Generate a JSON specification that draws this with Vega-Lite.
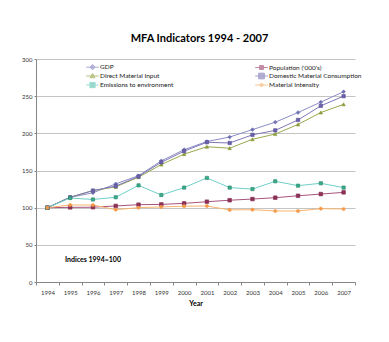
{
  "$schema": "https://vega.github.io/schema/vega-lite/v6.json",
  "width": 319,
  "height": 223,
  "autosize": {"type": "none"},
  "padding": {"left": 36, "top": 59, "right": 34, "bottom": 60},
  "background": "white",
  "title": {
    "text": "MFA Indicators 1994 - 2007",
    "font": "Lato",
    "fontSize": 11,
    "fontWeight": "bold",
    "color": "#000000",
    "anchor": "middle",
    "baseline": "alphabetic",
    "offset": 3,
    "dx": 4
  },
  "config": {
    "view": {"stroke": null},
    "font": "Lato",
    "legend": {
      "orient": "none",
      "legendX": 52.5,
      "legendY": 4,
      "columns": 2,
      "columnPadding": 79,
      "rowPadding": -1.5,
      "symbolSize": 49,
      "symbolStrokeWidth": 1,
      "labelFont": "Lato",
      "labelFontSize": 6.5,
      "labelColor": "#222222",
      "labelOffset": 3.5,
      "title": null,
      "padding": 0
    }
  },
  "data": {
    "values": [
      {"year": "1994", "series": "GDP", "value": 100},
      {"year": "1995", "series": "GDP", "value": 114},
      {"year": "1996", "series": "GDP", "value": 120},
      {"year": "1997", "series": "GDP", "value": 132},
      {"year": "1998", "series": "GDP", "value": 143},
      {"year": "1999", "series": "GDP", "value": 163},
      {"year": "2000", "series": "GDP", "value": 178},
      {"year": "2001", "series": "GDP", "value": 189},
      {"year": "2002", "series": "GDP", "value": 195},
      {"year": "2003", "series": "GDP", "value": 205},
      {"year": "2004", "series": "GDP", "value": 215},
      {"year": "2005", "series": "GDP", "value": 228},
      {"year": "2006", "series": "GDP", "value": 242},
      {"year": "2007", "series": "GDP", "value": 256},

      {"year": "1994", "series": "Population ('000's)", "value": 100},
      {"year": "1995", "series": "Population ('000's)", "value": 100.4},
      {"year": "1996", "series": "Population ('000's)", "value": 100.6},
      {"year": "1997", "series": "Population ('000's)", "value": 102.3},
      {"year": "1998", "series": "Population ('000's)", "value": 104},
      {"year": "1999", "series": "Population ('000's)", "value": 104.4},
      {"year": "2000", "series": "Population ('000's)", "value": 105.8},
      {"year": "2001", "series": "Population ('000's)", "value": 108},
      {"year": "2002", "series": "Population ('000's)", "value": 110},
      {"year": "2003", "series": "Population ('000's)", "value": 111.6},
      {"year": "2004", "series": "Population ('000's)", "value": 113.4},
      {"year": "2005", "series": "Population ('000's)", "value": 116},
      {"year": "2006", "series": "Population ('000's)", "value": 118.3},
      {"year": "2007", "series": "Population ('000's)", "value": 120.6},

      {"year": "1994", "series": "Direct Material Input", "value": 100},
      {"year": "1995", "series": "Direct Material Input", "value": 114},
      {"year": "1996", "series": "Direct Material Input", "value": 123},
      {"year": "1997", "series": "Direct Material Input", "value": 128},
      {"year": "1998", "series": "Direct Material Input", "value": 141},
      {"year": "1999", "series": "Direct Material Input", "value": 158},
      {"year": "2000", "series": "Direct Material Input", "value": 172},
      {"year": "2001", "series": "Direct Material Input", "value": 182},
      {"year": "2002", "series": "Direct Material Input", "value": 180},
      {"year": "2003", "series": "Direct Material Input", "value": 192},
      {"year": "2004", "series": "Direct Material Input", "value": 199},
      {"year": "2005", "series": "Direct Material Input", "value": 212},
      {"year": "2006", "series": "Direct Material Input", "value": 228},
      {"year": "2007", "series": "Direct Material Input", "value": 239},

      {"year": "1994", "series": "Domestic Material Consumption", "value": 100},
      {"year": "1995", "series": "Domestic Material Consumption", "value": 114},
      {"year": "1996", "series": "Domestic Material Consumption", "value": 123},
      {"year": "1997", "series": "Domestic Material Consumption", "value": 129},
      {"year": "1998", "series": "Domestic Material Consumption", "value": 142},
      {"year": "1999", "series": "Domestic Material Consumption", "value": 161},
      {"year": "2000", "series": "Domestic Material Consumption", "value": 176},
      {"year": "2001", "series": "Domestic Material Consumption", "value": 188},
      {"year": "2002", "series": "Domestic Material Consumption", "value": 187},
      {"year": "2003", "series": "Domestic Material Consumption", "value": 198},
      {"year": "2004", "series": "Domestic Material Consumption", "value": 204},
      {"year": "2005", "series": "Domestic Material Consumption", "value": 218},
      {"year": "2006", "series": "Domestic Material Consumption", "value": 237},
      {"year": "2007", "series": "Domestic Material Consumption", "value": 250},

      {"year": "1994", "series": "Emissions to environment", "value": 100},
      {"year": "1995", "series": "Emissions to environment", "value": 113},
      {"year": "1996", "series": "Emissions to environment", "value": 111},
      {"year": "1997", "series": "Emissions to environment", "value": 114},
      {"year": "1998", "series": "Emissions to environment", "value": 130},
      {"year": "1999", "series": "Emissions to environment", "value": 117},
      {"year": "2000", "series": "Emissions to environment", "value": 127},
      {"year": "2001", "series": "Emissions to environment", "value": 140},
      {"year": "2002", "series": "Emissions to environment", "value": 127},
      {"year": "2003", "series": "Emissions to environment", "value": 125},
      {"year": "2004", "series": "Emissions to environment", "value": 135.5},
      {"year": "2005", "series": "Emissions to environment", "value": 129.6},
      {"year": "2006", "series": "Emissions to environment", "value": 132.8},
      {"year": "2007", "series": "Emissions to environment", "value": 127},

      {"year": "1994", "series": "Material Intensity", "value": 100},
      {"year": "1995", "series": "Material Intensity", "value": 103.6},
      {"year": "1996", "series": "Material Intensity", "value": 103.6},
      {"year": "1997", "series": "Material Intensity", "value": 97.3},
      {"year": "1998", "series": "Material Intensity", "value": 100},
      {"year": "1999", "series": "Material Intensity", "value": 101},
      {"year": "2000", "series": "Material Intensity", "value": 102},
      {"year": "2001", "series": "Material Intensity", "value": 102.2},
      {"year": "2002", "series": "Material Intensity", "value": 97},
      {"year": "2003", "series": "Material Intensity", "value": 97.3},
      {"year": "2004", "series": "Material Intensity", "value": 95.5},
      {"year": "2005", "series": "Material Intensity", "value": 95.5},
      {"year": "2006", "series": "Material Intensity", "value": 98.7},
      {"year": "2007", "series": "Material Intensity", "value": 98.2}
    ]
  },
  "encoding": {
    "x": {
      "field": "year",
      "type": "ordinal",
      "bandPosition": 0.5,
      "scale": {"type": "band", "paddingInner": 0, "paddingOuter": 0},
      "title": "Year",
      "axis": {
        "labelAngle": 0,
        "labelFont": "Lato",
        "labelFontSize": 6,
        "labelColor": "#333333",
        "labelPadding": 4,
        "tickBand": "extent",
        "tickSize": 3,
        "tickColor": "#868686",
        "domainColor": "#868686",
        "grid": false,
        "titleFont": "Lato",
        "titleFontSize": 7,
        "titleFontWeight": "bold",
        "titleColor": "#000000",
        "titlePadding": 4
      }
    },
    "y": {
      "field": "value",
      "type": "quantitative",
      "scale": {"domain": [0, 300], "nice": false},
      "title": null,
      "axis": {
        "values": [0, 50, 100, 150, 200, 250, 300],
        "labelFont": "Lato",
        "labelFontSize": 6,
        "labelColor": "#333333",
        "labelPadding": 2,
        "tickSize": 2,
        "tickColor": "#868686",
        "domainColor": "#868686",
        "gridColor": "#c4c4c4",
        "gridWidth": 1
      }
    }
  },
  "layer": [
    {
      "mark": {"type": "line", "strokeWidth": 1},
      "encoding": {
        "color": {
          "field": "series",
          "type": "nominal",
          "scale": {
            "domain": ["GDP", "Population ('000's)", "Direct Material Input", "Domestic Material Consumption", "Emissions to environment", "Material Intensity"],
            "range": ["#8c8cc8", "#a8547c", "#9aa84c", "#7f78b8", "#6fd0c8", "#f7b56e"]
          },
          "legend": null
        }
      }
    },
    {
      "mark": {"type": "point", "filled": true, "strokeWidth": 0.6, "opacity": 1},
      "encoding": {
        "shape": {
          "field": "series",
          "type": "nominal",
          "scale": {
            "domain": ["GDP", "Population ('000's)", "Direct Material Input", "Domestic Material Consumption", "Emissions to environment", "Material Intensity"],
            "range": ["diamond", "square", "triangle-up", "square", "square", "circle"]
          },
          "legend": null
        },
        "fill": {
          "field": "series",
          "type": "nominal",
          "scale": {
            "domain": ["GDP", "Population ('000's)", "Direct Material Input", "Domestic Material Consumption", "Emissions to environment", "Material Intensity"],
            "range": ["#6f6fb4", "#8a2f55", "#8a9a3a", "#6a62a8", "#3aaa88", "#f59a4a"]
          },
          "legend": null
        },
        "stroke": {
          "field": "series",
          "type": "nominal",
          "scale": {
            "domain": ["GDP", "Population ('000's)", "Direct Material Input", "Domestic Material Consumption", "Emissions to environment", "Material Intensity"],
            "range": ["#6f6fb4", "#8a2f55", "#8a9a3a", "#5a5298", "#258a6c", "#f59a4a"]
          },
          "legend": null
        },
        "size": {
          "field": "series",
          "type": "ordinal",
          "scale": {
            "domain": ["GDP", "Population ('000's)", "Direct Material Input", "Domestic Material Consumption", "Emissions to environment", "Material Intensity"],
            "range": [14, 10, 14, 34, 26, 8]
          },
          "legend": null
        }
      }
    },
    {
      "transform": [{"filter": "datum.value < 0"}],
      "mark": {"type": "point", "filled": true},
      "encoding": {
        "shape": {
          "field": "series",
          "type": "nominal",
          "scale": {
            "domain": ["GDP", "Direct Material Input", "Emissions to environment", "Population ('000's)", "Domestic Material Consumption", "Material Intensity"],
            "range": [
              "M-1.8,0H1.8M0,-0.75L0.75,0L0,0.75L-0.75,0Z",
              "M-1.8,0H1.8M0,-0.75L0.7,0.5H-0.7Z",
              "M-1.8,0H1.8M-0.75,-0.75H0.75V0.75H-0.75Z",
              "M-1.8,0H1.8M-0.55,-0.55H0.55V0.55H-0.55Z",
              "M-1.8,0H1.8M-0.8,-0.8H0.8V0.8H-0.8Z",
              "M-1.8,0H1.8M-0.45,0A0.45,0.45,0,1,0,0.45,0A0.45,0.45,0,1,0,-0.45,0Z"
            ]
          },
          "legend": {"title": null}
        },
        "fill": {
          "field": "series",
          "type": "nominal",
          "scale": {
            "domain": ["GDP", "Direct Material Input", "Emissions to environment", "Population ('000's)", "Domestic Material Consumption", "Material Intensity"],
            "range": ["#6f6fb4", "#8a9a3a", "#3aaa88", "#8a2f55", "#6a62a8", "#f59a4a"]
          },
          "legend": {"title": null}
        },
        "stroke": {
          "field": "series",
          "type": "nominal",
          "scale": {
            "domain": ["GDP", "Direct Material Input", "Emissions to environment", "Population ('000's)", "Domestic Material Consumption", "Material Intensity"],
            "range": ["#8c8cc8", "#9aa84c", "#6fd0c8", "#a8547c", "#7f78b8", "#f7b56e"]
          },
          "legend": {"title": null}
        }
      }
    },
    {
      "data": {"values": [{"year": "1996", "value": 30, "label": "Indices 1994=100"}]},
      "mark": {"type": "text", "font": "Lato", "fontSize": 7, "fontWeight": "bold", "color": "#000000", "align": "center", "baseline": "middle"},
      "encoding": {
        "text": {"field": "label"}
      }
    }
  ],
  "resolve": {
    "scale": {"shape": "independent", "fill": "independent", "stroke": "independent", "size": "independent"}
  }
}
